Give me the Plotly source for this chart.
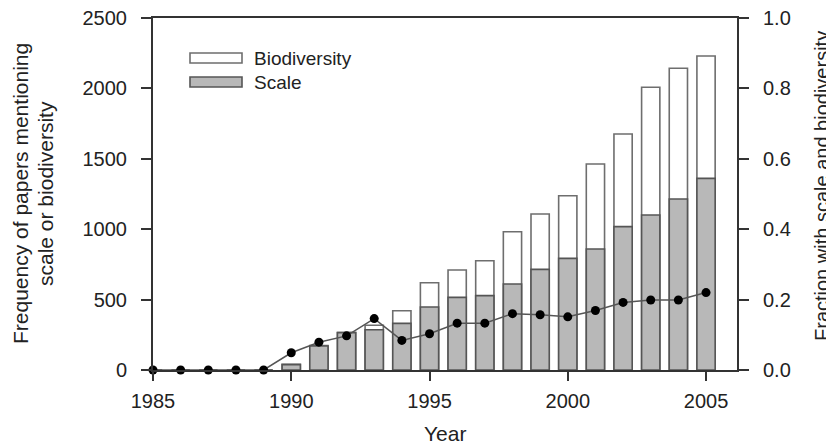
import plotly.graph_objects as go

years = list(range(1985, 2006))
biodiversity = [0, 0, 0, 0, 0, 40, 173, 268, 318, 421, 620, 710, 776, 982, 1108, 1238, 1463, 1676, 2008, 2143, 2230]
scale = [0, 0, 0, 0, 0, 38, 170, 265, 286, 331, 447, 516, 528, 611, 715, 793, 859, 1018, 1101, 1214, 1361]
fraction = [0, 0, 0, 0, 0, 0.049, 0.079, 0.097, 0.146, 0.084, 0.103, 0.133, 0.133, 0.160, 0.157, 0.151, 0.169, 0.192, 0.199, 0.199, 0.220]

left_ticks = [0, 500, 1000, 1500, 2000, 2500]
right_ticks = [0.0, 0.2, 0.4, 0.6, 0.8, 1.0]
right_tick_labels = ["0.0", "0.2", "0.4", "0.6", "0.8", "1.0"]
x_ticks = [1985, 1990, 1995, 2000, 2005]
legend_names = ["Biodiversity", "Scale"]
x_title = "Year"
y_title_lines = ["Frequency of papers mentioning", "scale or biodiversity"]
y2_title = "Fraction with scale and biodiversity"

FONT = "Liberation Sans, Arial, sans-serif"
TXT = "#222222"

# The page body has an 8px margin, so the figure is drawn 8px smaller and
# all layout positions below are given in page pixels minus that offset.
OFF = 8
W, H = 834 - OFF, 445 - OFF
L, T = 153 - OFF, 18 - OFF
PW, PH = 584, 352
R, B = W - L - PW, H - T - PH


def px_x(x):
    return (x - OFF - L) / PW


def px_y(y):
    return 1 - (y - OFF - T) / PH


fig = go.Figure()
fig.add_trace(go.Bar(x=years, y=biodiversity, name=legend_names[0], width=0.66,
                     marker=dict(color="white", line=dict(color="#6e6e6e", width=1.6))))
fig.add_trace(go.Bar(x=years, y=scale, name=legend_names[1], width=0.66,
                     marker=dict(color="#b8b8b8", line=dict(color="#555555", width=1.6))))
fig.add_trace(go.Scatter(x=years, y=fraction, yaxis="y2", mode="lines+markers",
                         line=dict(color="#555555", width=1.5),
                         marker=dict(color="black", size=9), cliponaxis=False))

axis_common = dict(ticks="outside", tickwidth=1.5, tickcolor="#333", showline=True,
                   linecolor="#333", linewidth=2, showgrid=False, zeroline=False,
                   automargin=False, ticklabeloverflow="allow")

fig.update_layout(
    width=W, height=H,
    margin=dict(l=L, r=R, t=T, b=B, pad=0, autoexpand=False),
    paper_bgcolor="white", plot_bgcolor="white",
    barmode="overlay", showlegend=False,
    font=dict(family=FONT, color=TXT, size=20),
    xaxis=dict(range=[1985, 2006.12], tickvals=x_ticks, ticklen=9, mirror=True,
               ticklabelstandoff=3,
               tickfont=dict(size=20, family=FONT, color=TXT), **axis_common),
    yaxis=dict(range=[0, 2500], tickvals=left_ticks, ticklen=10, ticklabelstandoff=10,
               tickfont=dict(size=20, family=FONT, color=TXT), **axis_common),
    yaxis2=dict(range=[0, 1.0], tickvals=right_ticks, ticktext=right_tick_labels,
                overlaying="y", side="right", ticklen=10, ticklabelstandoff=10,
                tickfont=dict(size=20, family=FONT, color=TXT), **axis_common),
)

# axis titles
fig.add_annotation(xref="paper", yref="paper", x=px_x(445), y=px_y(433), text=x_title,
                   showarrow=False, xanchor="center", yanchor="middle",
                   font=dict(size=21, family=FONT, color=TXT))
for xc, line in zip([20, 45], y_title_lines):
    fig.add_annotation(xref="paper", yref="paper", x=px_x(xc), y=px_y(194), text=line,
                       textangle=-90, showarrow=False, xanchor="center", yanchor="middle",
                       font=dict(size=21, family=FONT, color=TXT))
fig.add_annotation(xref="paper", yref="paper", x=px_x(822), y=px_y(186), text=y2_title,
                   textangle=-90, showarrow=False, xanchor="center", yanchor="middle",
                   font=dict(size=20, family=FONT, color=TXT))

# custom legend (wide swatches as in the reference)
fills = ["white", "#b8b8b8"]
lines = ["#6e6e6e", "#555555"]
for i, nm in enumerate(legend_names):
    yc = 58 + 24 * i
    fig.add_shape(type="rect", xref="paper", yref="paper",
                  x0=px_x(190), x1=px_x(242), y0=px_y(yc + 5), y1=px_y(yc - 5),
                  fillcolor=fills[i], line=dict(color=lines[i], width=1.6))
    fig.add_annotation(xref="paper", yref="paper", x=px_x(252), y=px_y(yc),
                       text=nm, showarrow=False, xanchor="left", yanchor="middle",
                       font=dict(size=19, family=FONT, color=TXT))

fig.write_html("out.html")
